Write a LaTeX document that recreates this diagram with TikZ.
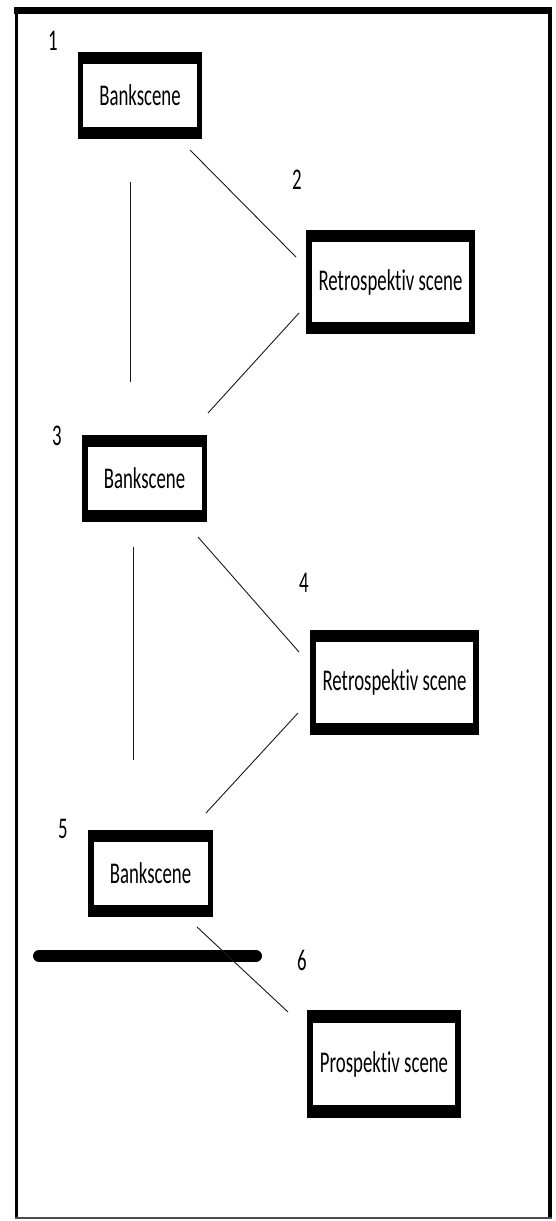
\documentclass[tikz,border=0pt]{standalone}
\usepackage{fontspec}
\setmainfont{Carlito}[Ligatures=NoCommon]
\begin{document}
\begin{tikzpicture}[x=1pt,y=-1pt,
  outerbox/.style={fill=black,draw=none,inner sep=0pt,outer sep=0pt},
  innerbox/.style={fill=white,draw=none,inner sep=0pt,outer sep=0pt,font=\fontsize{18.8}{20}\selectfont,text=black},
  numlabel/.style={inner sep=0pt,font=\fontsize{18.8}{20}\selectfont,text=black},
  link/.style={line width=0.9pt,black!90}]
\useasboundingbox (0,0) rectangle (556,1221);
\fill[white] (0,0) rectangle (556,1221);
% frame
\draw[line width=7pt] (14,10.5) -- (552,10.5);
\draw[line width=3.5pt] (16.5,7) -- (16.5,1219);
\draw[line width=4pt] (550,7) -- (550,1219);
\draw[line width=2pt,black!70] (15,1218) -- (552,1218);
% boxes
\node[outerbox,minimum width=124pt,minimum height=87pt] (b1) at (140,95.5) {};
\node[innerbox,minimum width=114pt,minimum height=63pt] (t1) at (b1) {\scalebox{1}[1.6]{Bankscene}};
\node[outerbox,minimum width=169pt,minimum height=104pt] (b2) at (390.5,282) {};
\node[innerbox,minimum width=157pt,minimum height=80pt] (t2) at (b2) {\scalebox{1}[1.6]{Retrospektiv scene}};
\node[outerbox,minimum width=125pt,minimum height=87pt] (b3) at (144.5,478.5) {};
\node[innerbox,minimum width=114pt,minimum height=63pt] (t3) at (b3) {\scalebox{1}[1.6]{Bankscene}};
\node[outerbox,minimum width=169pt,minimum height=105pt] (b4) at (394.5,682.5) {};
\node[innerbox,minimum width=157pt,minimum height=81pt] (t4) at (b4) {\scalebox{1}[1.6]{Retrospektiv scene}};
\node[outerbox,minimum width=125pt,minimum height=87pt] (b5) at (150.5,873.5) {};
\node[innerbox,minimum width=114pt,minimum height=63pt] (t5) at (b5) {\scalebox{1}[1.6]{Bankscene}};
\node[outerbox,minimum width=154pt,minimum height=108pt] (b6) at (384,1064) {};
\node[innerbox,minimum width=142pt,minimum height=82pt] (t6) at (b6) {\scalebox{1}[1.6]{Prospektiv scene}};
% number labels
\node[numlabel] (n1) at (53,41) {\scalebox{1}[1.6]{1}};
\node[numlabel] (n2) at (297,180) {\scalebox{1}[1.6]{2}};
\node[numlabel] (n3) at (57,436) {\scalebox{1}[1.6]{3}};
\node[numlabel] (n4) at (304,583) {\scalebox{1}[1.6]{4}};
\node[numlabel] (n5) at (63,829) {\scalebox{1}[1.6]{5}};
\node[numlabel] (n6) at (302,960) {\scalebox{1}[1.6]{6}};
% connector ends
\coordinate (c12a) at (190,150);
\coordinate (c12b) at (296,257);
\coordinate (v1a) at (130,182);
\coordinate (v1b) at (130,382);
\coordinate (c23a) at (299,313);
\coordinate (c23b) at (208,413);
\coordinate (c34a) at (198,537);
\coordinate (c34b) at (299,652);
\coordinate (v2a) at (133,547);
\coordinate (v2b) at (133,760);
\coordinate (c45a) at (298,713);
\coordinate (c45b) at (206,813);
\coordinate (c56a) at (197,927);
\coordinate (c56b) at (288,1012);
\coordinate (bara) at (39,956);
\coordinate (barb) at (256,956);
\draw[link] (c12a) -- (c12b);
\draw[link] (v1a) -- (v1b);
\draw[link] (c23a) -- (c23b);
\draw[link] (c34a) -- (c34b);
\draw[link] (v2a) -- (v2b);
\draw[link] (c45a) -- (c45b);
\draw[line width=12pt,line cap=round] (bara) -- (barb);
\draw[link] (c56a) -- (c56b);
\end{tikzpicture}
\end{document}
